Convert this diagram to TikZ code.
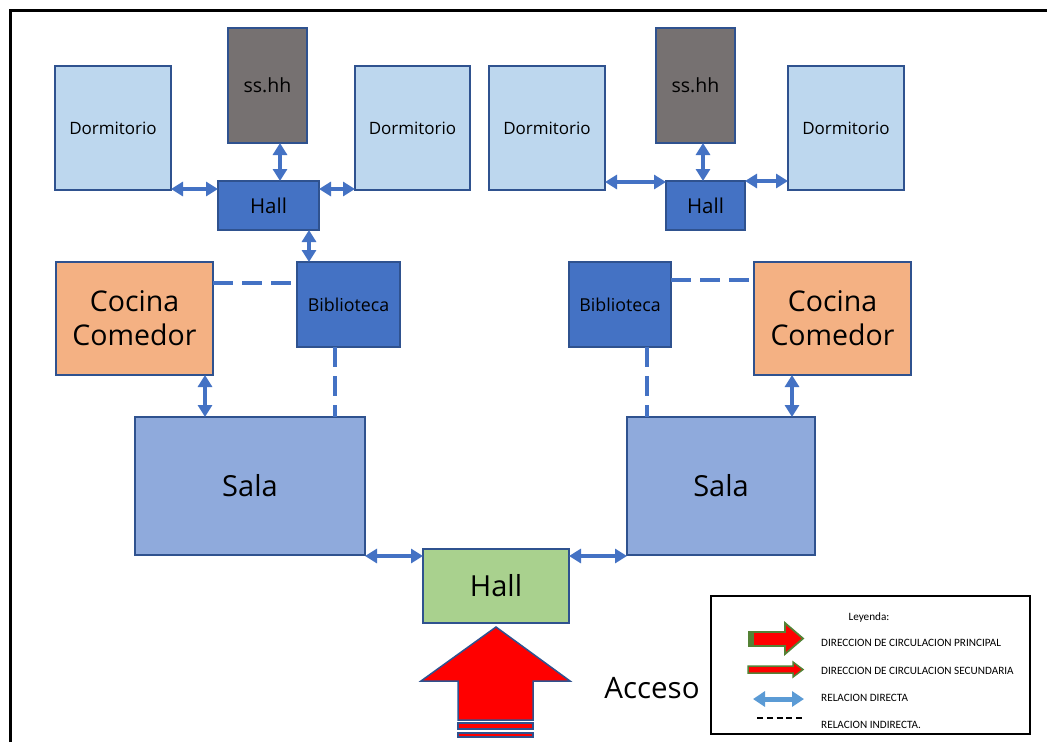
\documentclass[tikz,border=0pt]{standalone}
\usepackage{fontspec}
\setmainfont{Open Sans}
\newfontfamily\legfont{Carlito}
\usetikzlibrary{arrows.meta,calc}
\definecolor{bord}{HTML}{2F528F}
\definecolor{conn}{HTML}{4472C4}
\definecolor{dormc}{HTML}{BDD7EE}
\definecolor{grayc}{HTML}{767171}
\definecolor{cocc}{HTML}{F4B183}
\definecolor{salac}{HTML}{8FAADC}
\definecolor{hallc}{HTML}{A9D18E}
\definecolor{legblue}{HTML}{5B9BD5}
\definecolor{leggreen}{HTML}{548235}
\tikzset{
  room/.style={draw=bord, line width=1.2pt, inner sep=0pt, outer sep=0pt, align=center},
  dorm/.style={room, fill=dormc, minimum width=116pt, minimum height=124pt, font=\fontsize{17}{20}\selectfont},
  wc/.style={room, fill=grayc, minimum width=79pt, minimum height=115pt, font=\fontsize{19.5}{22}\selectfont},
  smallhall/.style={room, fill=conn, minimum height=49pt, font=\fontsize{20.5}{23}\selectfont},
  bib/.style={room, fill=conn, minimum width=103pt, minimum height=85pt, font=\fontsize{17.8}{20}\selectfont},
  coc/.style={room, fill=cocc, minimum width=157pt, minimum height=113pt, font=\fontsize{28.5}{34}\selectfont},
  sala/.style={room, fill=salac, minimum height=138pt, font=\fontsize{29}{33}\selectfont},
  dbl/.style={{Triangle[length=12pt,width=14pt]}-{Triangle[length=12pt,width=14pt]}, line width=4.5pt, draw=conn},
  dsh/.style={draw=conn, line width=4pt, dash pattern=on 20pt off 9pt},
  legtext/.style={anchor=west, inner sep=0pt, font=\legfont\fontsize{11.2}{13}\selectfont}
}
\begin{document}
\begin{tikzpicture}[x=1pt,y=-1pt]
\useasboundingbox (0,0) rectangle (1047,742);
\fill[white] (0,0) rectangle (1047,742);
% frame
\draw[line width=3pt] (10,742) -- (10,10) -- (1047,10);

% left block
\node[wc] (ssL) at (267.5,85.5) {ss.hh};
\node[dorm] (dLL) at (113,128) {Dormitorio};
\node[dorm, minimum width=115pt] (dLR) at (412.5,128) {Dormitorio};
\node[smallhall, minimum width=101pt] (hL) at (268.5,205.5) {Hall};
\node[coc] (cL) at (134.5,318.5) {Cocina\\Comedor};
\node[bib] (bL) at (348.5,304.5) {Biblioteca};
\node[sala, minimum width=230pt] (sL) at (250,486) {Sala};

% right block
\node[wc] (ssR) at (695.5,85.5) {ss.hh};
\node[dorm] (dRL) at (547,128) {Dormitorio};
\node[dorm] (dRR) at (846,128) {Dormitorio};
\node[smallhall, minimum width=79pt] (hR) at (705.5,205.5) {Hall};
\node[bib, minimum width=102pt] (bR) at (620,304.5) {Biblioteca};
\node[coc] (cR) at (832.5,318.5) {Cocina\\Comedor};
\node[sala, minimum width=188pt] (sR) at (721,486) {Sala};

% central hall
\node[room, fill=hallc, minimum width=146pt, minimum height=74pt, font=\fontsize{29}{33}\selectfont] (hB) at (496,586) {Hall};

% left connectors
\draw[dbl] ([xshift=12.5pt]ssL.south) -- ([xshift=12.5pt]ssL.south |- hL.north);
\draw[dbl] ([yshift=1pt]dLL.south east) -- ([yshift=1pt]dLL.south east -| hL.west);
\draw[dbl] ([yshift=1pt]hL.east |- dLR.south) -- ([yshift=1pt]dLR.south west);
\draw[dbl] ([xshift=40.5pt]hL.south) -- ([xshift=40.5pt]hL.south |- bL.north);
\draw[dbl] ([xshift=70.5pt]cL.south) -- ([xshift=70.5pt]cL.south |- sL.north);
\draw[dsh] ([yshift=-21pt]cL.north east) -- ([yshift=-21pt]cL.north east -| bL.west);
\draw[dsh] ([xshift=-13.5pt]bL.south) -- ([xshift=-13.5pt]bL.south |- sL.north);

% right connectors
\draw[dbl] ([xshift=7.5pt]ssR.south) -- ([xshift=7.5pt]ssR.south |- hR.north);
\draw[dbl] ([yshift=-1pt]dRL.east |- hR.north) -- ([yshift=-1pt]hR.north west);
\draw[dbl] (hR.north east) -- (hR.north east -| dRR.west);
\draw[dsh] ([yshift=-18pt]bR.north east) -- ([yshift=-18pt]bR.north east -| cR.west);
\draw[dsh] ([xshift=27pt]bR.south) -- ([xshift=27pt]bR.south |- sR.north);
\draw[dbl] ([xshift=-40.5pt]cR.south) -- ([xshift=-40.5pt]cR.south |- sR.north);

% central connectors
\draw[dbl] ([yshift=-1pt]sL.south east) -- ([yshift=-1pt]sL.south east -| hB.west);
\draw[dbl] ([yshift=-1pt]hB.east |- sR.south) -- ([yshift=-1pt]sR.south west);

% access arrow
\coordinate (tip) at (496,627);
\filldraw[fill=red, draw=bord, line width=1.5pt, line join=miter]
  (tip) -- (570,681) -- (533,681) -- (533,720) -- (458,720) -- (458,681) -- (421,681) -- cycle;
\filldraw[fill=red, draw=bord, line width=1.2pt] (458,723) rectangle (533,729);
\filldraw[fill=red, draw=bord, line width=1.2pt] (458,733) rectangle (533,737);
\node[font=\fontsize{29.5}{33}\selectfont, inner sep=0pt] (acc) at (652,688) {Acceso};

% legend
\node[draw=black, line width=1.5pt, minimum width=319pt, minimum height=138pt, inner sep=0pt] (leg) at (870.5,665) {};
\node[font=\legfont\fontsize{11.2}{13}\selectfont, inner sep=0pt] (leyT) at (869,618) {Leyenda:};
\filldraw[fill=red, draw=leggreen, line width=1.8pt, line join=miter]
  (749,632) -- (785,632) -- (785,623) -- (803,638.5) -- (785,654) -- (785,646) -- (749,646) -- cycle;
\fill[leggreen] (748,631) rectangle (754,647);
\node[legtext] (t1) at (821,643) {DIRECCION DE CIRCULACION PRINCIPAL};
\filldraw[fill=red, draw=leggreen, line width=1.5pt, line join=miter]
  (748,666) -- (793,666) -- (793,662) -- (803,669.5) -- (793,677) -- (793,673) -- (748,673) -- cycle;
\node[legtext] (t2) at (821,671) {DIRECCION DE CIRCULACION SECUNDARIA};
\coordinate (la) at (753,699);
\coordinate (lb) at (804,699);
\draw[legblue, line width=5pt, {Triangle[length=12pt,width=15pt]}-{Triangle[length=12pt,width=15pt]}] (la) -- (lb);
\node[legtext] (t3) at (821,698) {RELACION DIRECTA};
\coordinate (da) at (757,718);
\coordinate (db) at (802,718);
\draw[black, line width=1.5pt, dash pattern=on 6pt off 3.75pt] (da) -- (db);
\node[legtext] (t4) at (821,725) {RELACION INDIRECTA.};
\end{tikzpicture}
\end{document}
